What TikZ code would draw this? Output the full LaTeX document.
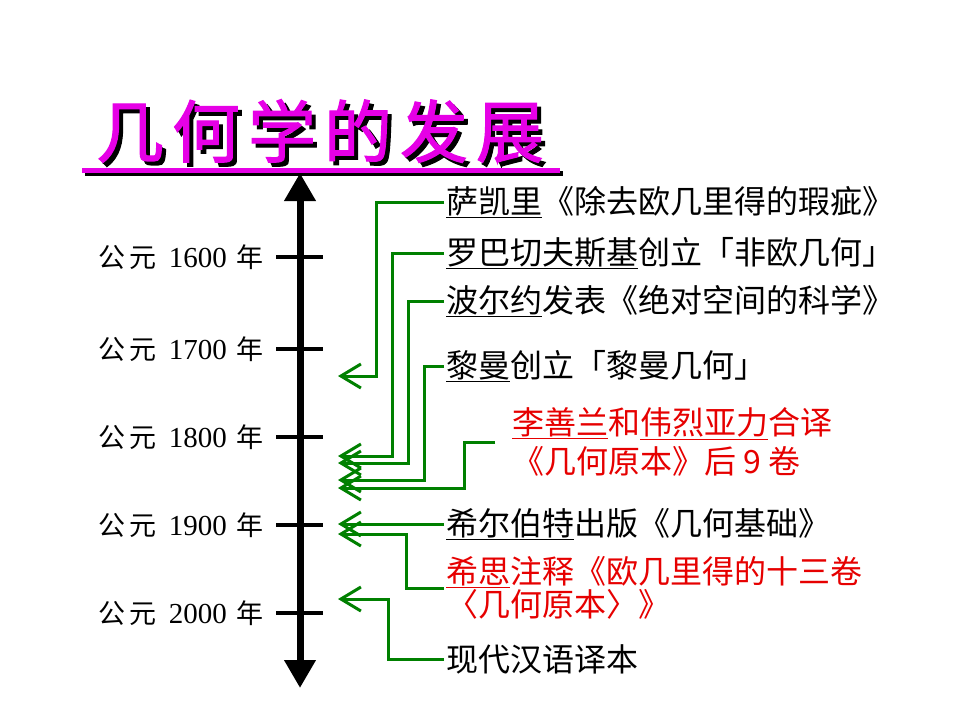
\documentclass[tikz,border=0pt]{standalone}
\usepackage{fontspec}
\setmainfont{Noto Sans CJK SC}
\newfontfamily\latin{Liberation Serif}
\newfontfamily\titlefont[FakeBold=1.6]{Noto Sans CJK SC}
\usetikzlibrary{arrows.meta}

\definecolor{titlemag}{RGB}{230,0,230}
\definecolor{linkgreen}{RGB}{0,128,0}
\definecolor{notered}{RGB}{230,0,0}

\newcommand{\gongyuan}[1]{公\kern4pt元\kern12pt{\latin\fontsize{29}{30}\selectfont #1}\kern10pt年}
\newcommand{\titletext}{几\kern8pt何\kern8pt学\kern8pt的\kern8pt发\kern8pt展}

\begin{document}
\begin{tikzpicture}[x=1pt,y=-1pt,
    eventtext/.style={anchor=west,inner sep=2pt,font=\fontsize{32}{39}\selectfont},
    yearlabel/.style={anchor=east,inner sep=0pt,font=\fontsize{27}{30}\selectfont},
    yeartick/.style={line width=4pt},
    linkarrow/.style={draw=linkgreen,line width=3pt,-{Straight Barb[length=20pt,width=24pt]}}]
\useasboundingbox (0,0) rectangle (960,720);

% title
\node[font=\titlefont\fontsize{68}{72}\selectfont,inner sep=0pt] (title) at (320,133)
    {\rlap{\kern4pt\raisebox{-4pt}{\color{black}\titletext}}\color{titlemag}\titletext};
\draw[line width=5pt,black] (85,173) -- (563,173);
\draw[line width=5pt,titlemag] (82,170) -- (560,170);

% time axis
\coordinate (top) at (300,173);
\coordinate (bottom) at (300,688);
\draw[line width=7pt,{Triangle[length=28pt,width=30pt]}-{Triangle[length=28pt,width=30pt]}] (bottom) -- (top);

\node[yearlabel] (y1600) at (264,257) {\gongyuan{1600}};
\node[yearlabel] (y1700) at (264,349) {\gongyuan{1700}};
\node[yearlabel] (y1800) at (264,437) {\gongyuan{1800}};
\node[yearlabel] (y1900) at (264,525) {\gongyuan{1900}};
\node[yearlabel] (y2000) at (264,613) {\gongyuan{2000}};
\draw[yeartick] ([xshift=12pt]y1600.east) -- ++(47,0);
\draw[yeartick] ([xshift=12pt]y1700.east) -- ++(47,0);
\draw[yeartick] ([xshift=12pt]y1800.east) -- ++(47,0);
\draw[yeartick] ([xshift=12pt]y1900.east) -- ++(47,0);
\draw[yeartick] ([xshift=12pt]y2000.east) -- ++(47,0);

% events
\node[eventtext] (sak) at (444,202) {\underline{萨凯里}《除去欧几里得的瑕疵》};
\node[eventtext] (rob) at (444,253) {\underline{罗巴切夫斯基}创立「非欧几何」};
\node[eventtext] (bol) at (444,301) {\underline{波尔约}发表《绝对空间的科学》};
\node[eventtext] (rie) at (444,366) {\underline{黎曼}创立「黎曼几何」};
\node[eventtext,text=notered,align=left] (li) at (510,442) {\underline{李善兰}和\underline{伟烈亚力}合译\\《几何原本》后 9 卷};
\node[eventtext] (hil) at (444,524) {\underline{希尔伯特}出版《几何基础》};
\node[eventtext,text=notered,align=left,font=\fontsize{32}{33}\selectfont] (hea) at (444,588) {\underline{希思}注释《欧几里得的十三卷\\〈几何原本〉》};
\node[eventtext] (mod) at (444,659) {现代汉语译本};

\coordinate (e1) at (338,376);
\coordinate (e2) at (338,456);
\coordinate (e3) at (338,463);
\coordinate (e4) at (338,480);
\coordinate (e5) at (338,488);
\coordinate (e6) at (338,524);
\coordinate (e7) at (338,534);
\coordinate (e8) at (338,599);

\draw[linkarrow] (sak.west) -- ++(-68,0) |- (e1);
\draw[linkarrow] (rob.west) -- ++(-52,0) |- (e2);
\draw[linkarrow] (bol.west) -- ++(-36,0) |- (e3);
\draw[linkarrow] (rie.west) -- ++(-20,0) |- (e4);
\draw[linkarrow] ([xshift=-15pt]li.west) -- ++(-31,0) |- (e5);
\draw[linkarrow] (hil.west) -- (e6);
\draw[linkarrow] (hea.west) -- ++(-38,0) |- (e7);
\draw[linkarrow] (mod.west) -- ++(-56,0) |- (e8);
\end{tikzpicture}
\end{document}
